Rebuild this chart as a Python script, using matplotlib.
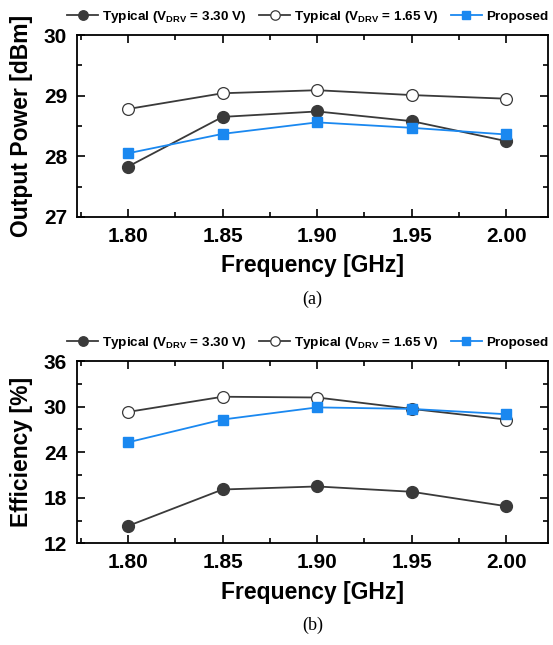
import matplotlib.pyplot as plt
from matplotlib.ticker import MultipleLocator

plt.rcParams["font.family"] = ["Liberation Sans", "DejaVu Sans"]
plt.rcParams["font.weight"] = "bold"
plt.rcParams["axes.labelweight"] = "bold"
plt.rcParams["mathtext.fontset"] = "custom"
plt.rcParams["mathtext.rm"] = "Liberation Sans:bold"
plt.rcParams["mathtext.bf"] = "Liberation Sans:bold"

freq = [1.80, 1.85, 1.90, 1.95, 2.00]
freq_labels = ["1.80", "1.85", "1.90", "1.95", "2.00"]

pout_typ_330 = [27.83, 28.65, 28.74, 28.58, 28.25]
pout_typ_165 = [28.78, 29.04, 29.09, 29.01, 28.95]
pout_proposed = [28.05, 28.37, 28.56, 28.47, 28.36]

eff_typ_330 = [14.3, 19.1, 19.5, 18.8, 16.9]
eff_typ_165 = [29.3, 31.3, 31.2, 29.7, 28.3]
eff_proposed = [25.3, 28.3, 29.9, 29.7, 29.0]

labels = [r"Typical (V$_{\mathrm{DRV}}$ = 3.30 V)",
          r"Typical (V$_{\mathrm{DRV}}$ = 1.65 V)",
          "Proposed"]

dark = "#3a3a3a"
blue = "#1a88f0"


def draw_panel(ax, y330, y165, yprop, ylabel, ylim, ystep, caption):
    ax.plot(freq, y330, color=dark, lw=1.3, marker="o", ms=8.5,
            mfc=dark, mec=dark, label=labels[0])
    ax.plot(freq, y165, color=dark, lw=1.3, marker="o", ms=8.5,
            mfc="white", mec=dark, mew=0.9, label=labels[1])
    ax.plot(freq, yprop, color=blue, lw=1.3, marker="s", ms=6.5,
            mfc=blue, mec=blue, label=labels[2])
    ax.set_xlim(1.773, 2.022)
    ax.set_ylim(*ylim)
    ax.set_xticks(freq)
    ax.set_xticklabels(freq_labels)
    ax.xaxis.set_minor_locator(MultipleLocator(0.025))
    ax.yaxis.set_major_locator(MultipleLocator(ystep))
    ax.yaxis.set_minor_locator(MultipleLocator(ystep / 2))
    ax.tick_params(which="both", direction="in", top=True, right=True,
                   labelsize=15, width=1.2, pad=7)
    ax.tick_params(which="major", length=6)
    ax.tick_params(which="minor", length=3.5)
    for s in ax.spines.values():
        s.set_linewidth(1.3)
    ax.set_xlabel("Frequency [GHz]", fontsize=16.5, labelpad=6)
    ax.set_ylabel(ylabel, fontsize=16.5, labelpad=8)
    ax.legend(loc="lower center", bbox_to_anchor=(0.49, 1.025), ncol=3,
              frameon=False, fontsize=9.7, handlelength=2.3,
              columnspacing=0.9, handletextpad=0.3, borderaxespad=0.2,
              borderpad=0.2, markerscale=0.8)
    ax.text(0.5, -0.45, caption, transform=ax.transAxes, ha="center",
            va="center", fontsize=13, fontweight="normal",
            family="Liberation Serif")


fig = plt.figure(figsize=(5.53, 6.45), dpi=100)
ax1 = fig.add_axes([0.139, 0.6636, 0.852, 0.2821])
ax2 = fig.add_axes([0.139, 0.1574, 0.852, 0.2829])

draw_panel(ax1, pout_typ_330, pout_typ_165, pout_proposed,
           "Output Power [dBm]", (27, 30), 1, "(a)")
draw_panel(ax2, eff_typ_330, eff_typ_165, eff_proposed,
           "Efficiency [%]", (12, 36), 6, "(b)")

fig.savefig("out.png", dpi=100)
